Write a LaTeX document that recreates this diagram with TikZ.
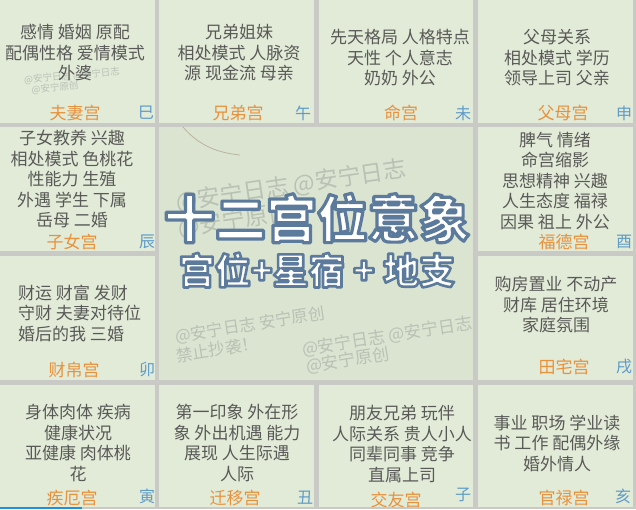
\documentclass[tikz,border=0pt]{standalone}
\usepackage{fontspec}
\setmainfont{Noto Sans CJK SC}
\definecolor{gridgray}{HTML}{C9CAC6}
\definecolor{cellgreen}{HTML}{E2EBD8}
\definecolor{centergreen}{HTML}{DAE4D0}
\definecolor{bodygray}{HTML}{595A57}
\definecolor{palaceorange}{HTML}{E8913C}
\definecolor{branchblue}{HTML}{5E9BC9}
\definecolor{wm}{HTML}{B9C1B5}
\definecolor{barblue}{HTML}{1E8FE8}
\newcommand\outlinedtext[2]{\special{pdf:literal direct 2 Tr #1 w 1 j 0.36 0.48 0.61 RG}#2\special{pdf:literal direct 0 Tr}}
\begin{document}
\begin{tikzpicture}[x=1pt,y=-1pt,
  cellbox/.style={fill=cellgreen},
  body/.style={text=bodygray,font=\fontsize{17}{20.5}\selectfont,align=center,inner sep=0pt},
  palace/.style={text=palaceorange,font=\fontsize{17}{20}\selectfont,inner sep=0pt},
  branch/.style={text=branchblue,font=\fontsize{16}{18}\selectfont,inner sep=0pt},
  wmark/.style={text=wm,inner sep=0pt,align=left},
  titleA/.style={font=\fontsize{51}{55}\selectfont\bfseries,inner sep=0pt,text=white},
  titleB/.style={font=\fontsize{36}{40}\selectfont\bfseries,inner sep=0pt,text=white}]
\useasboundingbox (0,0) rectangle (636,509);
\fill[gridgray] (0,0) rectangle (636,509);
% row 1
\fill[cellbox] (0,0) rectangle (155,123);
\fill[cellbox] (159,0) rectangle (314,123);
\fill[cellbox] (319,0) rectangle (473,123);
\fill[cellbox] (478,0) rectangle (633,123);
% row 2
\fill[cellbox] (0,127) rectangle (155,251);
\fill[cellbox] (478,127) rectangle (633,251);
% row 3
\fill[cellbox] (0,256) rectangle (155,380);
\fill[cellbox] (478,256) rectangle (633,380);
% row 4
\fill[cellbox] (0,385) rectangle (155,507);
\fill[cellbox] (159,385) rectangle (314,507);
\fill[cellbox] (319,385) rectangle (473,507);
\fill[cellbox] (478,385) rectangle (633,507);
% centre
\fill[centergreen] (159,127) rectangle (473,380);
\draw[wm!80!brown,line width=0.8pt] (183,127) .. controls (200,147) and (220,153) .. (240,155);
\fill[barblue] (0,507) rectangle (82,509);

% watermarks
\node[wmark,font=\fontsize{9.5}{11}\selectfont,rotate=5] (w1) at (72,76) {@安宁日志 @安宁日志};
\node[wmark,font=\fontsize{9.5}{11}\selectfont,rotate=5] (w2) at (55,88) {@安宁原创};
\node[wmark,font=\fontsize{23}{25}\selectfont,rotate=8.5,anchor=west] (w3) at (176,203) {@安宁日志 @安宁日志};
\node[wmark,font=\fontsize{23}{25}\selectfont,rotate=8.5,anchor=west] (w4) at (178,229) {@安宁原创};
\node[wmark,font=\fontsize{16.5}{18}\selectfont,rotate=9,anchor=west] (w5) at (175,337) {@安宁日志 安宁原创};
\node[wmark,font=\fontsize{16.5}{18}\selectfont,rotate=9,anchor=west] (w6) at (176,356) {禁止抄袭！};
\node[wmark,font=\fontsize{17}{18}\selectfont,rotate=9,anchor=west] (w7) at (302,350) {@安宁日志 @安宁日志};
\node[wmark,font=\fontsize{17}{18}\selectfont,rotate=9,anchor=west] (w8) at (306,367) {@安宁原创};

% title
\node[titleA] (ta) at (317,218) {\outlinedtext{3.2}{十二宫位意象}};
\node[titleB] (tb) at (317,270) {\outlinedtext{2.6}{宫位+星宿 + 地支}};

% cell texts
\node[body] (b1) at (75,53) {感情 婚姻 原配\\配偶性格 爱情模式\\外婆};
\node[body] (b2) at (239,53) {兄弟姐妹\\相处模式 人脉资\\源 现金流 母亲};
\node[body] (b3) at (400,58) {先天格局 人格特点\\天性 个人意志\\奶奶 外公};
\node[body] (b4) at (557,58) {父母关系\\相处模式 学历\\领导上司 父亲};
\node[body] (b5) at (72,179) {子女教养 兴趣\\相处模式 色桃花\\性能力 生殖\\外遇 学生 下属\\岳母 二婚};
\node[body] (b6) at (555,181) {脾气 情绪\\命宫缩影\\思想精神 兴趣\\人生态度 福禄\\因果 祖上 外公};
\node[body,align=left,anchor=west] (b7) at (18,313) {财运 财富 发财\\守财 夫妻对待位\\婚后的我 三婚};
\node[body] (b8) at (556,305) {购房置业 不动产\\财库 居住环境\\家庭氛围};
\node[body] (b9) at (78,443) {身体肉体 疾病\\健康状况\\亚健康 肉体桃\\花};
\node[body] (b10) at (237,443) {第一印象 外在形\\象 外出机遇 能力\\展现 人生际遇\\人际};
\node[body] (b11) at (402,444) {朋友兄弟 玩伴\\人际关系 贵人小人\\同辈同事 竞争\\直属上司};
\node[body] (b12) at (557,443) {事业 职场 学业读\\书 工作 配偶外缘\\婚外情人};

% palace names
\node[palace] (p1) at (75,113) {夫妻宫};
\node[palace] (p2) at (238,113) {兄弟宫};
\node[palace] (p3) at (401,113) {命宫};
\node[palace] (p4) at (563,113) {父母宫};
\node[palace] (p5) at (72,242) {子女宫};
\node[palace] (p6) at (564,242) {福德宫};
\node[palace] (p7) at (74,370) {财帛宫};
\node[palace] (p8) at (564,367) {田宅宫};
\node[palace] (p9) at (72,498) {疾厄宫};
\node[palace] (p10) at (235,498) {迁移宫};
\node[palace] (p11) at (396,500) {交友宫};
\node[palace] (p12) at (564,498) {官禄宫};

% branches
\node[branch] (z1) at (146,113) {巳};
\node[branch] (z2) at (303,113) {午};
\node[branch] (z3) at (463,113) {未};
\node[branch] (z4) at (624,113) {申};
\node[branch] (z5) at (147,242) {辰};
\node[branch] (z6) at (624,242) {酉};
\node[branch] (z7) at (147,370) {卯};
\node[branch] (z8) at (624,367) {戌};
\node[branch] (z9) at (147,496) {寅};
\node[branch] (z10) at (305,498) {丑};
\node[branch] (z11) at (463,495) {子};
\node[branch] (z12) at (623,496) {亥};
\end{tikzpicture}
\end{document}
